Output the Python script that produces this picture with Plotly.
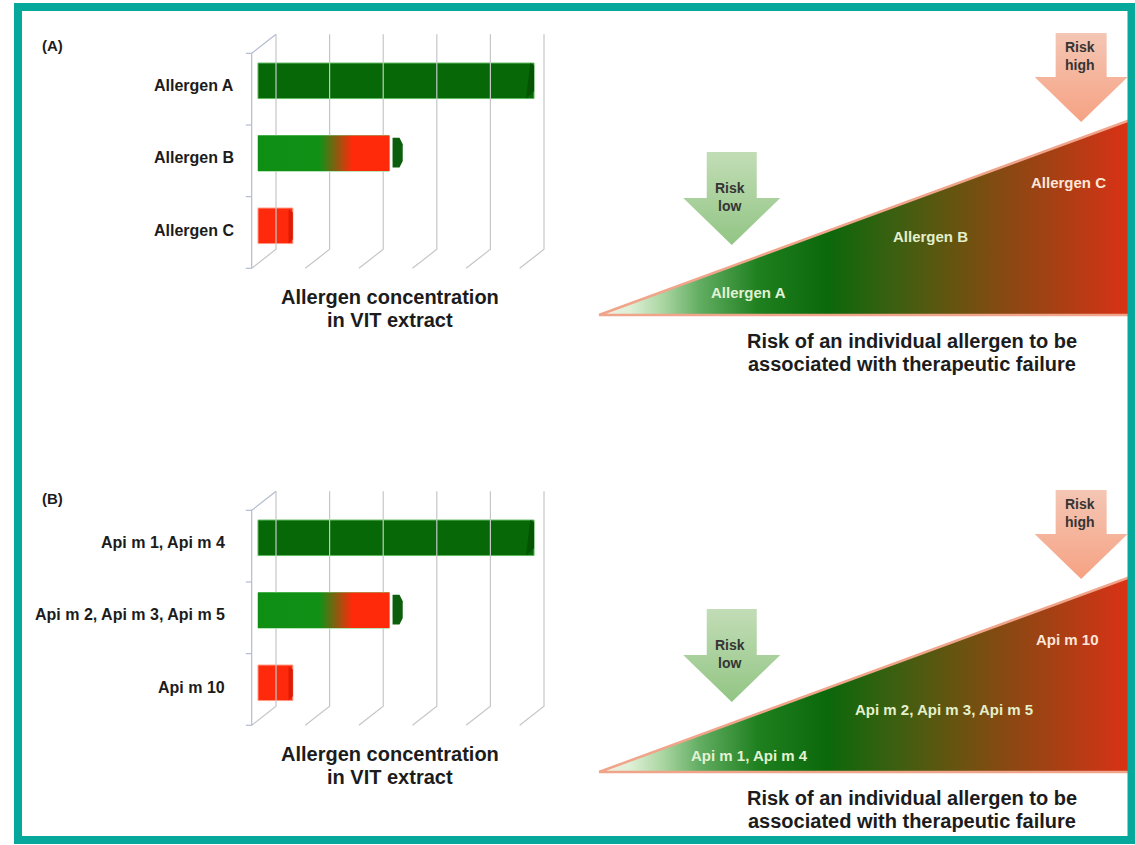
import plotly.graph_objects as go

W, H = 1135, 845
FONT = "Liberation Sans, Arial, Helvetica, sans-serif"

# ---------------- data ----------------
panel_tags = ["(A)", "(B)"]
labels_A = ["Allergen A", "Allergen B", "Allergen C"]
labels_B = ["Api m 1, Api m 4", "Api m 2, Api m 3, Api m 5", "Api m 10"]
concentration = [5.15, 2.45, 0.65]          # relative allergen amount in VIT extract
conc_ticks = [0, 1, 2, 3, 4, 5]              # back-wall gridlines
risk_A = [0.281, 0.625, 0.885]               # position on risk gradient (0 low -> 1 high)
risk_B = [0.284, 0.650, 0.883]
bar_title = ["Allergen concentration", "in VIT extract"]
risk_title = ["Risk of an individual allergen to be", "associated with therapeutic failure"]
arrow_text = ["Risk<br>low", "Risk<br>high"]
arrow_risk = [0.25, 0.908]                   # where the arrows point on the risk axis

# ---------------- styles ----------------
bar_colors = ["#076807", "#0e8f14", "#ff2a0c"]
grad_bar = [[0, "#0e8f14"], [0.47, "#119016"], [0.72, "#ff2a0a"], [1, "#ff2a0a"]]
tri_scale = [[0.0, "#f6f0ea"], [0.06, "#dcefd4"], [0.12, "#aad6a2"], [0.19, "#62ad62"],
             [0.30, "#1f801f"], [0.43, "#0b680b"], [0.56, "#3d5f10"], [0.68, "#6a5310"],
             [0.77, "#8a4812"], [0.87, "#aa3f14"], [0.96, "#cc3516"], [1.0, "#dc3212"]]
label_hA = [0.113, 0.403, 0.680]
label_hB = [0.087, 0.318, 0.677]
label_colA = ["#e2f2d4", "#e4f0cc", "#fde6d8"]

fig = go.Figure()
layout = {}
annotations = []


def xdom(p0, p1):
    return [p0 / W, p1 / W]


def ydom(p0, p1):
    return [1 - p1 / H, 1 - p0 / H]


def rng(p0, p1, a, b):
    return [(p0 - a) / b, (p1 - a) / b]


def axname(n):
    return ("x" if n == 1 else f"x{n}"), ("y" if n == 1 else f"y{n}")


def hidden(**kw):
    d = dict(visible=False, fixedrange=True, showgrid=False, zeroline=False)
    d.update(kw)
    return d


for i, dy in enumerate([0, 457]):
    nb, nt = 1 + 2 * i, 2 + 2 * i
    bx, by = axname(nb)
    tx, ty = axname(nt)
    kb = "" if nb == 1 else str(nb)
    kt = str(nt)
    # bar axes: pixel = 258 + 53.6*u ; pixel_y = 80.8+dy + 72.5*v
    layout["xaxis" + kb] = hidden(domain=xdom(20, 575), range=rng(20, 575, 258, 53.6), anchor=by)
    layout["yaxis" + kb] = hidden(domain=ydom(20 + dy, 340 + dy),
                                  range=rng(340 + dy, 20 + dy, 80.8 + dy, 72.5), anchor=bx)
    # triangle axes: pixel = 599 + 531*t ; pixel_y = 315+dy - 195*h
    layout["xaxis" + kt] = hidden(domain=xdom(580, 1135), range=rng(580, 1135, 599, 531), anchor=ty)
    layout["yaxis" + kt] = hidden(domain=ydom(15 + dy, 380 + dy),
                                  range=rng(380 + dy, 15 + dy, 315 + dy, -195), anchor=tx)

    # ---- 3D frame of bar chart ----
    uf, du, dv = -0.118, 0.454, 0.262
    vtop, vbot = -0.379, 2.586
    gx, gy = [], []
    for k in conc_ticks:
        ub = uf + du + k
        gx += [ub, ub, ub - du, None]
        gy += [vtop - dv, vbot - dv, vbot, None]
    fig.add_trace(go.Scatter(x=gx, y=gy, mode="lines", line=dict(color="#c6c6c8", width=1.2),
                             xaxis=bx, yaxis=by, hoverinfo="skip"))
    ax_x = [uf + du, uf, uf, None]
    ax_y = [vtop - dv, vtop, vbot, None]
    for j in range(4):
        vv = vtop + j * (vbot - vtop) / 3
        ax_x += [uf, uf - 0.11, None]
        ax_y += [vv, vv, None]
    fig.add_trace(go.Scatter(x=ax_x, y=ax_y, mode="lines", line=dict(color="#b3bbd0", width=1.2),
                             xaxis=bx, yaxis=by, hoverinfo="skip"))

    # ---- bars ----
    hw = 0.245
    fig.add_trace(go.Bar(orientation="h", y=[0, 1, 2], x=concentration, base=0, width=2 * hw,
                         marker=dict(color=bar_colors, line=dict(color=["#5fb85f", "#7fcf7f", "#ff9a84"], width=1)),
                         xaxis=bx, yaxis=by, hoverinfo="skip"))
    vA, vB, vC = concentration
    # gradient face for bar B
    fig.add_trace(go.Scatter(x=[0, vB, vB, 0, 0], y=[1 - hw, 1 - hw, 1 + hw, 1 + hw, 1 - hw],
                             mode="lines", fill="toself", line=dict(width=0, color="rgba(0,0,0,0)"),
                             fillgradient=dict(type="horizontal", colorscale=grad_bar, start=0, stop=vB),
                             xaxis=bx, yaxis=by, hoverinfo="skip"))
    # end cap of bar B
    fig.add_trace(go.Scatter(x=[vB + 0.06, vB + 0.19, vB + 0.25, vB + 0.25, vB + 0.19, vB + 0.06, vB + 0.06],
                             y=[1 - hw + 0.03, 1 - hw + 0.03, 1 - hw + 0.12, 1 + hw - 0.14,
                                1 + hw - 0.05, 1 + hw - 0.05, 1 - hw + 0.03],
                             mode="lines", fill="toself", fillcolor="#0b5e0b", line=dict(width=0, color="rgba(0,0,0,0)"),
                             xaxis=bx, yaxis=by, hoverinfo="skip"))
    # darker right ends of A and C
    fig.add_trace(go.Scatter(x=[vA - 0.07, vA, vA, vA - 0.15, vA - 0.07],
                             y=[-hw, -hw + 0.03, hw - 0.1, hw, -hw],
                             mode="lines", fill="toself", fillcolor="#045404", line=dict(width=0, color="rgba(0,0,0,0)"),
                             xaxis=bx, yaxis=by, hoverinfo="skip"))
    fig.add_trace(go.Scatter(x=[vC - 0.08, vC, vC, vC - 0.08, vC - 0.08],
                             y=[2 - hw + 0.02, 2 - hw + 0.06, 2 + hw - 0.06, 2 + hw, 2 - hw + 0.02],
                             mode="lines", fill="toself", fillcolor="#dc1c06", line=dict(width=0, color="rgba(0,0,0,0)"),
                             xaxis=bx, yaxis=by, hoverinfo="skip"))

    labels = labels_A if i == 0 else labels_B
    lab_u = -0.41 if i == 0 else -0.578
    for k, lab in enumerate(labels):
        annotations.append(dict(text=lab, x=lab_u, y=k + 0.06, xref=bx, yref=by, xanchor="right",
                                yanchor="middle", showarrow=False,
                                font=dict(family=FONT, size=16, color="#1c1c1c", weight="bold")))
    for j, t in enumerate(bar_title):
        annotations.append(dict(text=t, x=2.463, y=2.982 + 0.317 * j, xref=bx, yref=by, xanchor="center",
                                yanchor="middle", showarrow=False,
                                font=dict(family=FONT, size=20, color="#1c1c1c", weight="bold")))

    # ---- risk triangle ----
    fig.add_trace(go.Scatter(x=[0, 1, 1, 0], y=[0, 0, 1, 0], mode="lines", fill="toself",
                             line=dict(color="#f0a48a", width=2.5),
                             fillgradient=dict(type="horizontal", colorscale=tri_scale, start=0, stop=1),
                             xaxis=tx, yaxis=ty, hoverinfo="skip"))
    # arrows
    arrow_geo = [  # shaft half width, head half width, top, head base, tip (in triangle units)
        (0.0471, 0.0914, 0.836, 0.600, 0.359),
        (0.0480, 0.0876, 1.446, 1.2205, 0.990),
    ]
    arrow_cols = [[[0, "#92c584"], [1, "#c2ddb6"]], [[0, "#f6a283"], [1, "#f4c6b4"]]]
    for a, (c, (sw, hh, top, base, tip)) in enumerate(zip(arrow_risk, arrow_geo)):
        xs = [c - sw, c + sw, c + sw, c + hh, c, c - hh, c - sw, c - sw]
        ys = [top, top, base, base, tip, base, base, top]
        fig.add_trace(go.Scatter(x=xs, y=ys, mode="lines", fill="toself",
                                 line=dict(width=0, color="rgba(0,0,0,0)"),
                                 fillgradient=dict(type="vertical", colorscale=arrow_cols[a], start=tip, stop=top),
                                 xaxis=tx, yaxis=ty, hoverinfo="skip"))
        annotations.append(dict(text=arrow_text[a], x=c - 0.003, y=(top + base) / 2 - 0.005 if a == 1 else 0.6026,
                                xref=tx, yref=ty, xanchor="center", yanchor="middle", showarrow=False,
                                font=dict(family=FONT, size=14, color="#353535", weight="bold")))

    risk = risk_A if i == 0 else risk_B
    hs = label_hA if i == 0 else label_hB
    for k, lab in enumerate(labels):
        annotations.append(dict(text=lab, x=risk[k], y=hs[k], xref=tx, yref=ty, xanchor="center",
                                yanchor="middle", showarrow=False,
                                font=dict(family=FONT, size=15, color=label_colA[k], weight="bold")))
    for j, t in enumerate(risk_title):
        annotations.append(dict(text=t, x=0.589, y=-0.1333 - 0.118 * j, xref=tx, yref=ty, xanchor="center",
                                yanchor="middle", showarrow=False,
                                font=dict(family=FONT, size=20, color="#1c1c1c", weight="bold")))

    annotations.append(dict(text=panel_tags[i], x=40 / W, y=1 - (45 + dy + (0 if i == 0 else -4)) / H,
                            xref="paper", yref="paper", xanchor="left", yanchor="middle", showarrow=False,
                            font=dict(family=FONT, size=15, color="#1c1c1c", weight="bold")))

layout.update(
    width=W, height=H, margin=dict(l=0, r=0, t=0, b=0),
    paper_bgcolor="white", plot_bgcolor="rgba(0,0,0,0)",
    showlegend=False, barmode="overlay",
    annotations=annotations,
    shapes=[dict(type="rect", xref="paper", yref="paper", x0=18 / W, x1=1131.5 / W,
                 y0=1 - 840 / H, y1=1 - 7 / H, line=dict(color="#05a89a", width=8), layer="above")],
)
fig.update_layout(**layout)
fig.write_html("out.html")
